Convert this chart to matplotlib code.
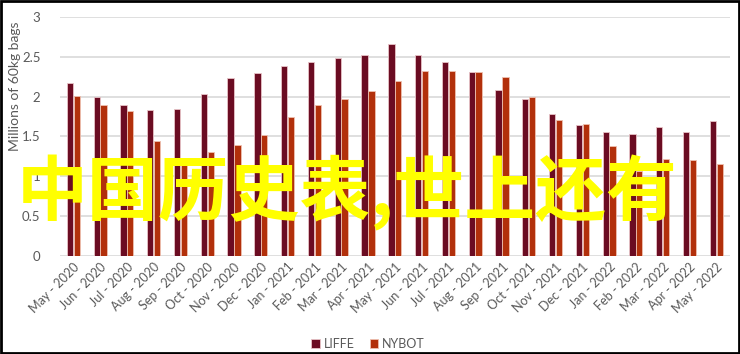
import matplotlib

matplotlib.use("Agg")
import matplotlib.pyplot as plt
import numpy as np

MONTHS = [
    "May - 2020", "Jun - 2020", "Jul - 2020", "Aug - 2020", "Sep - 2020",
    "Oct - 2020", "Nov - 2020", "Dec - 2020", "Jan - 2021", "Feb - 2021",
    "Mar - 2021", "Apr - 2021", "May - 2021", "Jun - 2021", "Jul - 2021",
    "Aug - 2021", "Sep - 2021", "Oct - 2021", "Nov - 2021", "Dec - 2021",
    "Jan - 2022", "Feb - 2022", "Mar - 2022", "Apr - 2022", "May - 2022",
]
LIFFE = [2.17, 1.99, 1.89, 1.83, 1.84, 2.03, 2.24, 2.30, 2.39, 2.43, 2.49, 2.52, 2.66,
         2.52, 2.43, 2.31, 2.08, 1.97, 1.78, 1.65, 1.56, 1.53, 1.62, 1.55, 1.70]
NYBOT = [2.01, 1.89, 1.82, 1.44, 1.20, 1.30, 1.39, 1.52, 1.74, 1.90, 1.97, 2.07, 2.20,
         2.32, 2.32, 2.31, 2.25, 2.00, 1.71, 1.66, 1.38, 1.07, 1.22, 1.20, 1.15]
Y_TICKS = [0, 0.5, 1, 1.5, 2, 2.5, 3]
WATERMARK = "中国历史表,世上还有"

LIFFE_COLOR = "#6b0c22"
NYBOT_COLOR = "#b2300b"
GRAY = "#595959"

plt.rcParams["font.family"] = ["Lato", "DejaVu Sans"]

fig = plt.figure(figsize=(7.4, 3.54), dpi=100)
ax = fig.add_axes([0.081, 0.277, 0.905, 0.675])

x = np.arange(len(MONTHS))
w = 0.235
ax.bar(x - w / 2 - 0.01, LIFFE, width=w, color=LIFFE_COLOR, edgecolor="#e8c4c8",
       linewidth=0.6, label="LIFFE", zorder=3)
ax.bar(x + w / 2 + 0.01, NYBOT, width=w, color=NYBOT_COLOR, edgecolor="#eec0b0",
       linewidth=0.6, label="NYBOT", zorder=3)

ax.set_xlim(-0.5, len(MONTHS) - 0.5)
ax.set_ylim(0, 3)
ax.set_yticks(Y_TICKS)
ax.set_yticklabels([f"{v:g}" for v in Y_TICKS])
ax.yaxis.grid(True, color="#d9d9d9", linewidth=1.2, zorder=0)
for s in ax.spines.values():
    s.set_visible(False)
ax.tick_params(axis="both", length=0, colors=GRAY, labelsize=9)
ax.tick_params(axis="y", pad=14, labelsize=9.5)
ax.set_xticks(x)
ax.set_xticklabels(MONTHS, rotation=45, ha="right", rotation_mode="anchor")
ax.set_ylabel("Millions of 60kg bags", color=GRAY, fontsize=10)
ax.yaxis.set_label_coords(-0.058, 0.71)

ax.legend(loc="lower center", bbox_to_anchor=(0.46, -0.44), ncol=2, frameon=False,
          fontsize=9, labelcolor=GRAY, handlelength=0.7, handleheight=0.7,
          handletextpad=0.3, columnspacing=1.2)

fig.text(0.022, 0.455, WATERMARK, color="#ffff00", fontsize=51, fontweight="bold",
         family=["Noto Sans CJK SC", "DejaVu Sans"], va="center", ha="left")

fig.patches.append(plt.Rectangle((0.001, 0.002), 0.997, 0.995, transform=fig.transFigure,
                                 fill=False, edgecolor="black", linewidth=2))

fig.savefig("out.png", dpi=100)
